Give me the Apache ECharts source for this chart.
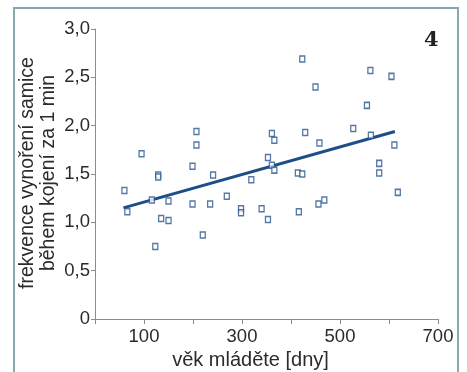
<!DOCTYPE html>
<html>
<head>
<meta charset="utf-8">
<script src="https://cdn.jsdelivr.net/npm/echarts@6/dist/echarts.min.js"></script>
<style>
  html, body { margin: 0; padding: 0; background: #fff; }
  #chart { width: 467px; height: 372px; }
</style>
</head>
<body>
<div id="chart"></div>
<script>
// věk mláděte [dny] vs. frekvence vynoření samice

const ageDays = [60, 66, 95, 116, 123, 129, 129, 135, 150, 150, 199, 199, 207, 207, 220, 235, 241,
  269, 298, 298, 319, 340, 353, 353, 361, 361, 366, 366, 414, 416, 423, 423, 429, 450, 456, 458,
  468, 527, 555, 562, 563, 580, 580, 605, 611, 618];
const surfacing = [1.33, 1.11, 1.71, 1.23, 0.75, 1.49, 1.47, 1.04, 1.22, 1.02, 1.58, 1.19, 1.94, 1.80, 0.87, 1.19, 1.49,
  1.27, 1.14, 1.10, 1.44, 1.14, 1.03, 1.67, 1.92, 1.59, 1.85, 1.54, 1.51, 1.11, 2.69, 1.50, 1.93, 2.40, 1.19, 1.82,
  1.23, 1.97, 2.21, 2.57, 1.90, 1.61, 1.51, 2.51, 1.80, 1.31];

// regression line ends
const trendX = [58, 612];
const trendY = [1.15, 1.94];

const xTicksShown = [100, 300, 500, 700];

const chart = echarts.init(document.getElementById('chart'));

const points = ageDays.map((x, i) => [x, surfacing[i]]);
const trend = trendX.map((x, i) => [x, trendY[i]]);

const textColor = '#2b2b2b';
const axisColor = '#8c8c8c';

chart.setOption({
  animation: false,
  backgroundColor: '#fff',
  grid: { left: 95, right: 29, top: 29, bottom: 53, containLabel: false, outerBoundsMode: 'none' },
  graphic: [
    {
      type: 'rect',
      shape: { x: 14, y: 8, width: 444, height: 380 },
      style: { fill: 'none', stroke: '#86a9b1', lineWidth: 2 }
    },
    {
      type: 'text',
      left: 424, top: 30,
      style: { text: '4', font: 'bold 21px "DejaVu Serif", serif', fill: '#222' }
    },
    {
      type: 'text',
      x: 38, y: 173, rotation: Math.PI / 2,
      style: {
        text: 'frekvence vynoření samice\nběhem kojení za 1 min',
        font: '19.5px "Liberation Sans", Arial, sans-serif',
        fill: textColor, align: 'center', verticalAlign: 'middle', lineHeight: 21
      }
    }
  ],
  xAxis: {
    type: 'value',
    min: 0, max: 700, interval: 100,
    name: 'věk mláděte [dny]',
    nameLocation: 'middle',
    nameGap: 28,
    nameTextStyle: { color: textColor, fontSize: 20, fontFamily: 'Liberation Sans', padding: [0, 32, 0, 0] },
    axisLine: { show: true, lineStyle: { color: axisColor, width: 1 } },
    axisTick: { show: true, length: 5, lineStyle: { color: axisColor } },
    axisLabel: {
      color: textColor, fontSize: 18.5, fontFamily: 'Liberation Sans', margin: 8,
      formatter: v => xTicksShown.includes(v) ? String(v) : ''
    },
    splitLine: { show: false }
  },
  yAxis: {
    type: 'value',
    min: 0, max: 3, interval: 0.5,
    axisLine: { show: true, lineStyle: { color: axisColor, width: 1 } },
    axisTick: { show: true, length: 4, lineStyle: { color: axisColor } },
    axisLabel: {
      color: textColor, fontSize: 18.5, fontFamily: 'Liberation Sans', margin: 5,
      formatter: v => v === 0 ? '0' : v.toFixed(1).replace('.', ',')
    },
    splitLine: { show: false }
  },
  series: [
    {
      type: 'line',
      data: trend,
      showSymbol: false,
      lineStyle: { color: '#1d4e86', width: 3 },
      z: 2
    },
    {
      type: 'scatter',
      data: points,
      symbol: 'rect',
      symbolSize: [5, 6],
      itemStyle: { color: '#fff', borderColor: '#2a5590', borderWidth: 1.4 },
      z: 3
    }
  ]
});
</script>
</body>
</html>
